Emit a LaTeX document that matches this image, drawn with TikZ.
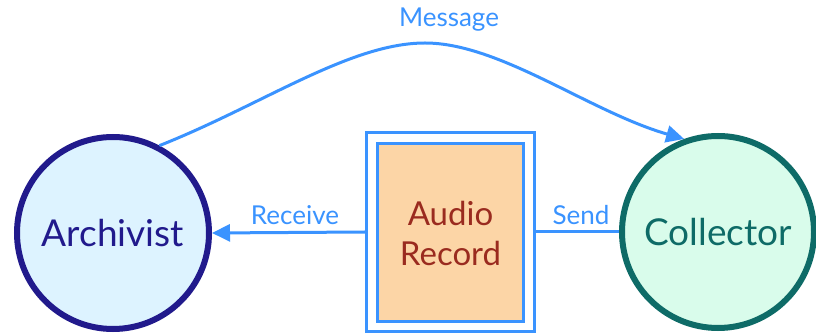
\documentclass[tikz,border=0pt]{standalone}
\usepackage{fontspec}
\setmainfont{Lato}
\usetikzlibrary{arrows.meta}
\definecolor{lineblue}{HTML}{3A93FF}
\definecolor{archstroke}{HTML}{211A8C}
\definecolor{archfill}{HTML}{DDF3FF}
\definecolor{collstroke}{HTML}{0E6B67}
\definecolor{collfill}{HTML}{D9FCEB}
\definecolor{recfill}{HTML}{FCD5A6}
\definecolor{rectext}{HTML}{9A2B1F}
\tikzset{
  actor/.style={circle, line width=6pt, minimum size=192pt, inner sep=0pt, font=\fontsize{37}{40}\selectfont},
  flow/.style={draw=lineblue, line width=3pt},
  flowlabel/.style={text=lineblue, font=\fontsize{26}{30}\selectfont, inner sep=0pt},
  tip/.style={-{Triangle[length=18pt,width=17pt]}}
}
\begin{document}
\begin{tikzpicture}[x=1pt,y=1pt]
\useasboundingbox (0,-336) rectangle (816,0);
\node[actor, draw=archstroke, fill=archfill, text=archstroke] (arch) at (113,-233) {Archivist};
\node[actor, draw=collstroke, fill=collfill, text=collstroke] (coll) at (718,-232) {Collector};
\node[draw=lineblue, line width=3pt, minimum width=168pt, minimum height=199pt, inner sep=0pt] (outer) at (450.5,-232) {};
\node[draw=lineblue, fill=recfill, line width=3pt, minimum width=146pt, minimum height=178pt, inner sep=0pt, align=center, text=rectext, font=\fontsize{33}{40}\selectfont] (rec) at (450.5,-233) {Audio\\Record};
\draw[flow, tip] (outer.west) -- (arch.east);
\draw[flow] (coll.west) -- (outer.east);
\node[flowlabel] (lrecv) at (295,-215) {Receive};
\node[flowlabel] (lsend) at (581,-215) {Send};
\coordinate (peak) at (425,-43);
\draw[flow, tip] (arch.62) .. controls (262,-105) and (350,-43) .. (peak)
  .. controls (500,-43) and (590,-112) .. (coll.110);
\node[flowlabel] (lmsg) at (449,-20) {Message};
\end{tikzpicture}
\end{document}
